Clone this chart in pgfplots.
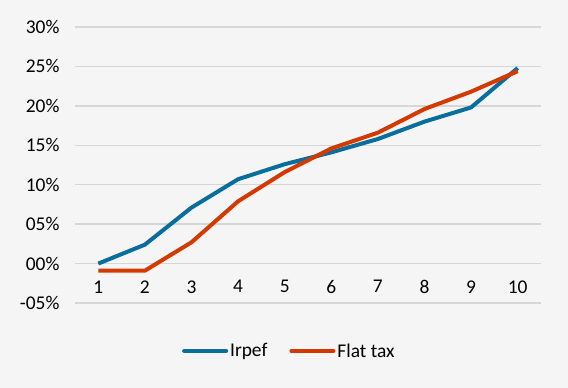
\documentclass[border=0pt]{standalone}
\usepackage{pgfplots}
\pgfplotsset{compat=1.18}
\usepackage{fontspec}
\setmainfont{Carlito}
\definecolor{bg}{HTML}{F5F5F5}
\definecolor{gridc}{HTML}{D6D6D6}
\definecolor{irpef}{HTML}{0A6E9C}
\definecolor{flat}{HTML}{D43A00}
\begin{document}
\begin{tikzpicture}
\fill[bg] (-75bp,-85bp) rectangle (493bp,303bp);
\begin{axis}[
  at={(0,0)}, anchor=south west,
  scale only axis, width=466bp, height=276bp,
  xmin=0.5, xmax=10.5, ymin=-5, ymax=30,
  axis line style={draw=none},
  tick style={draw=none},
  xtick={1,...,10},
  ytick={-5,0,5,10,15,20,25,30},
  yticklabels={-05\%,00\%,05\%,10\%,15\%,20\%,25\%,30\%},
  ymajorgrids, grid style={gridc, line width=1.4bp},
  tick label style={font=\fontsize{19.5}{22}\selectfont},
  /pgf/number format/assume math mode=true,
  yticklabel style={xshift=-12bp},
  xticklabel style={yshift=26bp},
  legend style={at={(0.46,-0.174)}, anchor=center, draw=none, fill=none,
    legend columns=-1, font=\fontsize{19.5}{22}\selectfont,
    /tikz/every even column/.append style={column sep=20bp}},
  legend image code/.code={\draw[#1, line cap=round] (0bp,0bp) -- (42bp,0bp);},
]
\addplot[irpef, line width=4bp, line join=round] coordinates {
(1,0.0) (2,2.4) (3,7.1) (4,10.7) (5,12.6) (6,14.1) (7,15.8) (8,18.0) (9,19.8) (10,24.8)};
\addlegendentry{Irpef}
\addplot[flat, line width=4bp, line join=round] coordinates {
(1,-0.9) (2,-0.9) (3,2.7) (4,7.9) (5,11.6) (6,14.6) (7,16.6) (8,19.6) (9,21.8) (10,24.4)};
\addlegendentry{Flat tax}
\end{axis}
\end{tikzpicture}
\end{document}
